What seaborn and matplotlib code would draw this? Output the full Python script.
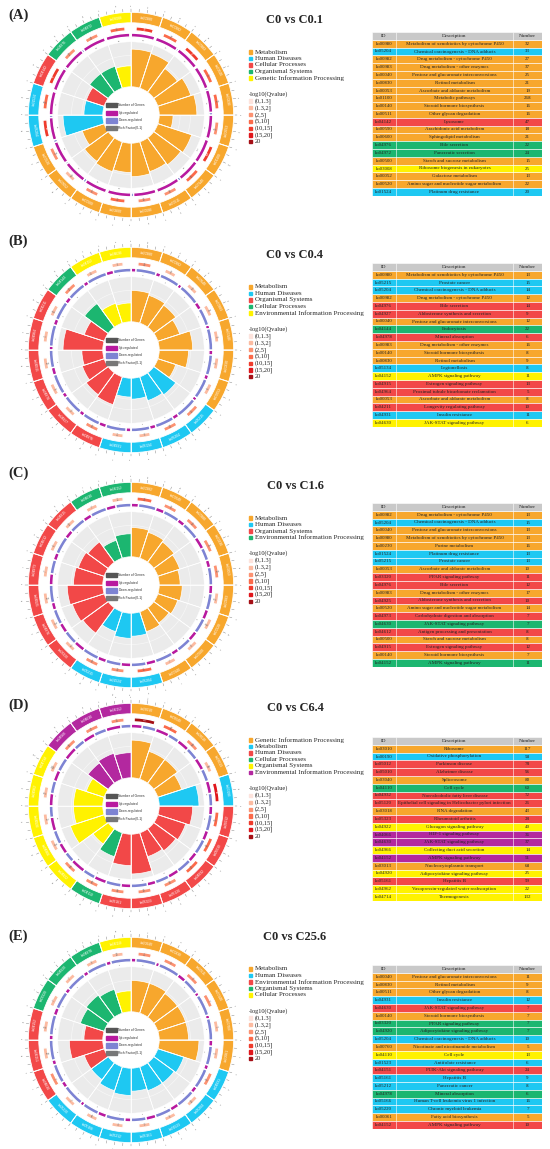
import numpy as np
import pandas as pd
import matplotlib
matplotlib.use("Agg")
import matplotlib.pyplot as plt
from matplotlib.patches import Rectangle
import seaborn as sns

# category codes used in the tables
CAT_NAMES = {"M": "Metabolism", "H": "Human Diseases", "C": "Cellular Processes",
             "O": "Organismal Systems", "G": "Genetic Information Processing",
             "E": "Environmental Information Processing"}
PALETTE = ["#f7a72d", "#1ec8f2", "#f24848", "#1cb670", "#fff200", "#b3289f"]
Q_COLORS = ["#fde3dc", "#fcbba1", "#fc9272", "#fb6a4a", "#ef3b2c", "#e0161c", "#a50f15"]
Q_LABELS = ["(0,1.3]", "(1.3,2]", "(2,5]", "(5,10]", "(10,15]", "(15,20]", "20"]
UP_COLOR = "#b8199f"
DOWN_COLOR = "#7d83d3"

# ---------------- (A) C0 vs C0.1 ----------------
A_legend = ["M", "H", "C", "O", "G"]
A_ids = ["ko00980", "ko05204", "ko00982", "ko00983", "ko00040", "ko00830", "ko00053", "ko01100",
         "ko00140", "ko00511", "ko04142", "ko00590", "ko00600", "ko04976", "ko04972", "ko00500",
         "ko03008", "ko00052", "ko00520", "ko01524"]
A_desc = ["Metabolism of xenobiotics by cytochrome P450", "Chemical carcinogenesis - DNA adducts",
          "Drug metabolism - cytochrome P450", "Drug metabolism - other enzymes",
          "Pentose and glucuronate interconversions", "Retinol metabolism",
          "Ascorbate and aldarate metabolism", "Metabolic pathways", "Steroid hormone biosynthesis",
          "Other glycan degradation", "Lysosome", "Arachidonic acid metabolism",
          "Sphingolipid metabolism", "Bile secretion", "Pancreatic secretion",
          "Starch and sucrose metabolism", "Ribosome biogenesis in eukaryotes",
          "Galactose metabolism", "Amino sugar and nucleotide sugar metabolism",
          "Platinum drug resistance"]
A_num = [32, 33, 27, 37, 25, 21, 19, 268, 16, 16, 47, 18, 21, 22, 24, 15, 25, 13, 22, 20]
A_cat = ["M", "H", "M", "M", "M", "M", "M", "M", "M", "M", "C", "M", "M", "O", "O", "M", "G", "M", "M", "H"]
A_rich = [0.90, 0.95, 0.87, 0.70, 0.83, 0.90, 0.33, 0.85, 0.80, 0.75, 0.45, 0.80, 0.70, 0.55, 0.55,
          0.75, 0.50, 0.70, 0.55, 0.45]
A_up = [0.95, 0.90, 0.93, 0.96, 0.92, 0.90, 0.94, 0.97, 0.90, 0.95, 0.93, 0.90, 0.94, 0.92, 0.95,
        0.90, 0.96, 0.93, 0.90, 0.94]
A_q = [4, 4, 3, 4, 3, 3, 2, 4, 3, 2, 4, 2, 3, 2, 2, 2, 3, 1, 2, 3]

# ---------------- (B) C0 vs C0.4 ----------------
B_legend = ["M", "H", "O", "C", "E"]
B_ids = ["ko00980", "ko05215", "ko05204", "ko00982", "ko04976", "ko04927", "ko00040", "ko04144",
         "ko04978", "ko00983", "ko00140", "ko00830", "ko05134", "ko04152", "ko04915", "ko04964",
         "ko00053", "ko04211", "ko04931", "ko04630"]
B_desc = ["Metabolism of xenobiotics by cytochrome P450", "Prostate cancer",
          "Chemical carcinogenesis - DNA adducts", "Drug metabolism - cytochrome P450",
          "Bile secretion", "Aldosterone synthesis and secretion",
          "Pentose and glucuronate interconversions", "Endocytosis", "Mineral absorption",
          "Drug metabolism - other enzymes", "Steroid hormone biosynthesis", "Retinol metabolism",
          "Legionellosis", "AMPK signaling pathway", "Estrogen signaling pathway",
          "Proximal tubule bicarbonate reclamation", "Ascorbate and aldarate metabolism",
          "Longevity regulating pathway", "Insulin resistance", "JAK-STAT signaling pathway"]
B_num = [13, 15, 14, 12, 14, 9, 12, 22, 6, 16, 8, 9, 8, 11, 13, 5, 8, 10, 11, 6]
B_cat = ["M", "H", "H", "M", "O", "O", "M", "C", "O", "M", "M", "M", "H", "E", "O", "O", "M", "O", "H", "E"]
B_rich = [0.75, 0.65, 0.60, 0.70, 0.70, 0.65, 0.65, 0.70, 0.55, 0.55, 0.80, 0.70, 0.50, 0.50, 0.50,
          0.95, 0.45, 0.50, 0.45, 0.45]
B_up = [0.20, 0.15, 0.25, 0.20, 0.30, 0.20, 0.15, 0.25, 0.20, 0.30, 0.15, 0.20, 0.25, 0.20, 0.30,
        0.15, 0.20, 0.25, 0.20, 0.30]
B_q = [2, 2, 2, 1, 2, 1, 1, 2, 1, 1, 1, 1, 1, 1, 1, 1, 1, 1, 1, 1]

# ---------------- (C) C0 vs C1.6 ----------------
C_legend = ["M", "H", "O", "E"]
C_ids = ["ko00982", "ko05204", "ko00040", "ko00980", "ko00230", "ko01524", "ko05215", "ko00053",
         "ko03320", "ko04976", "ko00983", "ko04925", "ko00520", "ko04973", "ko04630", "ko04612",
         "ko00500", "ko04915", "ko00140", "ko04152"]
C_desc = ["Drug metabolism - cytochrome P450", "Chemical carcinogenesis - DNA adducts",
          "Pentose and glucuronate interconversions", "Metabolism of xenobiotics by cytochrome P450",
          "Purine metabolism", "Platinum drug resistance", "Prostate cancer",
          "Ascorbate and aldarate metabolism", "PPAR signaling pathway", "Bile secretion",
          "Drug metabolism - other enzymes", "Aldosterone synthesis and secretion",
          "Amino sugar and nucleotide sugar metabolism", "Carbohydrate digestion and absorption",
          "JAK-STAT signaling pathway", "Antigen processing and presentation",
          "Starch and sucrose metabolism", "Estrogen signaling pathway",
          "Steroid hormone biosynthesis", "AMPK signaling pathway"]
C_num = [13, 15, 13, 13, 16, 13, 13, 10, 11, 12, 17, 10, 14, 7, 7, 8, 8, 12, 7, 11]
C_cat = ["M", "H", "M", "M", "M", "H", "H", "M", "O", "O", "M", "O", "M", "O", "E", "O", "M", "O", "M", "E"]
C_rich = [0.70, 0.55, 0.65, 0.60, 0.55, 0.60, 0.50, 0.50, 0.75, 0.80, 0.55, 0.85, 0.50, 0.70, 0.45,
          0.65, 0.45, 0.60, 0.50, 0.55]
C_up = [0.30, 0.40, 0.35, 0.30, 0.50, 0.40, 0.35, 0.30, 0.45, 0.40, 0.35, 0.30, 0.40, 0.45, 0.35,
        0.30, 0.40, 0.35, 0.30, 0.40]
C_q = [3, 3, 2, 2, 2, 2, 2, 2, 1, 1, 1, 1, 1, 1, 1, 1, 1, 1, 1, 1]

# ---------------- (D) C0 vs C6.4 ----------------
D_legend = ["G", "M", "H", "C", "O", "E"]
D_ids = ["ko03010", "ko00190", "ko05012", "ko05010", "ko03040", "ko04110", "ko04932", "ko05120",
         "ko03018", "ko05323", "ko04922", "ko04066", "ko04630", "ko04966", "ko04152", "ko03013",
         "ko04920", "ko05161", "ko04962", "ko04714"]
D_desc = ["Ribosome", "Oxidative phosphorylation", "Parkinson disease", "Alzheimer disease",
          "Spliceosome", "Cell cycle", "Non-alcoholic fatty liver disease",
          "Epithelial cell signaling in Helicobacter pylori infection", "RNA degradation",
          "Rheumatoid arthritis", "Glucagon signaling pathway", "HIF-1 signaling pathway",
          "JAK-STAT signaling pathway", "Collecting duct acid secretion", "AMPK signaling pathway",
          "Nucleocytoplasmic transport", "Adipocytokine signaling pathway", "Hepatitis B",
          "Vasopressin-regulated water reabsorption", "Thermogenesis"]
D_num = [117, 58, 78, 96, 80, 60, 72, 26, 43, 28, 40, 36, 37, 14, 51, 68, 25, 59, 22, 132]
D_cat = ["G", "M", "H", "H", "G", "C", "H", "H", "G", "H", "O", "E", "E", "O", "E", "G", "O", "H", "O", "O"]
D_rich = [0.90, 0.95, 0.80, 0.70, 0.70, 0.60, 0.65, 0.60, 0.70, 0.95, 0.45, 0.60, 0.65, 0.85, 0.60,
          0.60, 0.70, 0.75, 0.70, 0.45]
D_up = [0.45, 0.50, 0.35, 0.40, 0.55, 0.50, 0.40, 0.45, 0.50, 0.35, 0.60, 0.55, 0.50, 0.45, 0.60,
        0.50, 0.55, 0.40, 0.50, 0.45]
D_q = [6, 5, 3, 3, 3, 2, 3, 2, 2, 2, 2, 2, 2, 1, 2, 1, 1, 2, 1, 1]

# ---------------- (E) C0 vs C25.6 ----------------
E_legend = ["M", "H", "E", "O", "C"]
E_ids = ["ko00040", "ko00830", "ko00511", "ko04931", "ko04630", "ko00140", "ko03320", "ko04920",
         "ko05204", "ko00760", "ko04110", "ko01523", "ko04151", "ko05161", "ko05212", "ko04978",
         "ko05166", "ko05220", "ko00061", "ko04152"]
E_desc = ["Pentose and glucuronate interconversions", "Retinol metabolism",
          "Other glycan degradation", "Insulin resistance", "JAK-STAT signaling pathway",
          "Steroid hormone biosynthesis", "PPAR signaling pathway",
          "Adipocytokine signaling pathway", "Chemical carcinogenesis - DNA adducts",
          "Nicotinate and nicotinamide metabolism", "Cell cycle", "Antifolate resistance",
          "PI3K-Akt signaling pathway", "Hepatitis B", "Pancreatic cancer", "Mineral absorption",
          "Human T-cell leukemia virus 1 infection", "Chronic myeloid leukemia",
          "Fatty acid biosynthesis", "AMPK signaling pathway"]
E_num = [11, 9, 8, 12, 7, 7, 7, 7, 10, 5, 13, 6, 24, 9, 8, 6, 16, 7, 5, 10]
E_cat = ["M", "M", "M", "H", "E", "M", "O", "O", "H", "M", "C", "H", "E", "H", "H", "O", "H", "H", "M", "E"]
E_rich = [0.75, 0.75, 0.70, 0.65, 0.50, 0.70, 0.60, 0.65, 0.60, 0.70, 0.50, 0.60, 0.80, 0.55, 0.65,
          0.60, 0.60, 0.50, 0.95, 0.45]
E_up = [0.20, 0.15, 0.35, 0.20, 0.25, 0.15, 0.30, 0.20, 0.25, 0.15, 0.20, 0.35, 0.20, 0.40, 0.25,
        0.20, 0.35, 0.15, 0.25, 0.20]
E_q = [2, 2, 2, 2, 2, 2, 1, 1, 1, 1, 1, 1, 1, 1, 1, 1, 1, 1, 1, 1]

sns.set_style("white")
plt.rcParams["font.family"] = ["Liberation Serif", "DejaVu Serif"]

W, H = 550, 1149
fig = plt.figure(figsize=(W / 100, H / 100), dpi=100)
SANS = ["Liberation Sans", "DejaVu Sans"]


def fx(x):
    return x / W


def fy(y):
    return 1 - y / H


def tangent_rot(theta):
    d = np.degrees(theta) % 360
    return -d if (d <= 90 or d >= 270) else 180 - d


def draw_circle(cy, legend, ids, num, cat, rich, up, q, cx=131, R=115):
    pal = {c: PALETTE[i] for i, c in enumerate(legend)}
    df = pd.DataFrame({"id": ids, "num": num, "cat": cat, "rich": rich, "up": up, "q": q})
    df["order"] = df["cat"].map(lambda c: legend.index(c))
    df = df.sort_values("order", kind="stable").reset_index(drop=True)
    n = len(df)
    step = 2 * np.pi / n
    th = (np.arange(n) + 0.5) * step
    colors = df["cat"].map(pal).values
    upf = df["up"].values

    ax = fig.add_axes([fx(cx - R), fy(cy + R), 2 * R / W, 2 * R / H], projection="polar")
    ax.set_theta_zero_location("N")
    ax.set_theta_direction(-1)

    # light grey track behind the rich factor bars
    ax.bar(th, 0.43, width=step, bottom=0.27, color="#ebebeb", edgecolor="white",
           linewidth=0.3, zorder=0.5)
    circ = np.linspace(0, 2 * np.pi, 400)
    for rr in (0.37, 0.47, 0.57):
        ax.plot(circ, np.full_like(circ, rr), color="#f7f7f7", lw=0.5, zorder=0.6)

    # rich factor bars
    ax.bar(th, 0.40 * df["rich"].values, width=step, bottom=0.27, color=colors,
           edgecolor="white", linewidth=0.5, zorder=1)

    # up / down regulated ring
    start = th - step / 2
    ax.bar(start, 0.038, width=step * upf, bottom=0.745, align="edge", color=UP_COLOR, zorder=2)
    ax.bar(start + step * upf, 0.038, width=step * (1 - upf), bottom=0.745, align="edge",
           color=DOWN_COLOR, zorder=2)

    # q-value boxes with gene numbers
    qcol = [Q_COLORS[v] for v in df["q"]]
    ax.bar(th, 0.04, width=step * (0.35 + 0.07 * df["q"].values), bottom=0.805,
           color=qcol, zorder=2)
    # category ring with IDs
    ax.bar(th, 0.10, width=step, bottom=0.882, color=colors, edgecolor="white",
           linewidth=0.6, zorder=2)

    for i, row in df.iterrows():
        t = th[i]
        rot = tangent_rot(t)
        ax.text(t, 0.932, row.id, color="white", fontsize=2.4, family=SANS,
                rotation=rot, rotation_mode="anchor", ha="center", va="center", zorder=5)
        tcol = "#ffffff" if row.q >= 4 else "#666666"
        ax.text(t, 0.825, str(row.num), color=tcol, fontsize=1.8, family=SANS,
                rotation=rot, rotation_mode="anchor", ha="center", va="center", zorder=5)
        ax.text(t, 0.718, str(int(round(row.num * row.up))), color="#555555",
                fontsize=1.6, family=SANS, rotation=rot, rotation_mode="anchor",
                ha="center", va="center", zorder=5)
        s = t - step / 2
        for k in range(4):
            a = s + k * step / 4
            ax.plot([a, a], [0.99, 1.015], color="#888888", lw=0.35, zorder=5)
        for k, lab in ((0, "0"), (2, str(row.num))):
            a = s + k * step / 4 + 0.005
            d = np.degrees(a) % 360
            ax.text(a, 1.05, lab, color="#555555", fontsize=1.6, family=SANS,
                    rotation=90 - d if d < 180 else 270 - d,
                    rotation_mode="anchor", ha="center", va="center", zorder=5)
    # radial white separators
    for b in np.arange(n) * step:
        ax.plot([b, b], [0.27, 0.99], color="white", lw=0.6, zorder=4)

    ax.set_ylim(0, 1.1)
    ax.set_thetalim(0, 2 * np.pi)
    ax.set_xticks([])
    ax.set_yticks([])
    ax.grid(False)
    ax.spines["polar"].set_visible(False)
    ax.set_facecolor("none")

    # center legend
    items = [("Number of Genes", "#555555"), ("Up-regulated", UP_COLOR),
             ("Down-regulated", DOWN_COLOR), ("Rich Factor(0-1)", "#777777")]
    px = 1 / (2 * R)
    for j, (lab, col) in enumerate(items):
        yy = 0.5 + (10 - 7.7 * j) * px
        ax.add_patch(Rectangle((0.5 - 25 * px, yy - 2.2 * px), 11 * px, 4.4 * px, color=col,
                               transform=ax.transAxes, zorder=6))
        ax.text(0.5 - 12.5 * px, yy, lab, transform=ax.transAxes, fontsize=2.4, family=SANS,
                va="center", ha="left", color="#333333", zorder=6)


def draw_legend(y0, legend):
    for i, c in enumerate(legend):
        yy = y0 + i * 6.5
        fig.add_artist(Rectangle((fx(248.5), fy(yy + 1.7)), 3.4 / W, 3.4 / H,
                                 color=PALETTE[i], transform=fig.transFigure))
        fig.text(fx(255), fy(yy), CAT_NAMES[c], fontsize=5, va="center", ha="left")
    yq = y0 + (len(legend) - 1) * 6.5 + 16
    fig.text(fx(249), fy(yq), "-log10(Qvalue)", fontsize=4.6, va="center", ha="left")
    for k, (lab, col) in enumerate(zip(Q_LABELS, Q_COLORS)):
        yy = yq + 7 + k * 6.8
        fig.add_artist(Rectangle((fx(249), fy(yy + 1.6)), 3.2 / W, 3.2 / H,
                                 color=col, transform=fig.transFigure))
        fig.text(fx(255), fy(yy), lab, fontsize=4.6, va="center", ha="left")


def draw_table(top, ids, desc, num, cat, legend, left=372, width=170, rowh=7.8):
    n = len(ids)
    h = (n + 1) * rowh
    ax = fig.add_axes([fx(left), fy(top + h), width / W, h / H])
    names = [CAT_NAMES[c] for c in legend]
    pal = {CAT_NAMES[c]: PALETTE[i] for i, c in enumerate(legend)}
    tdf = pd.DataFrame({"row": ids, "w": np.ones(n), "catname": [CAT_NAMES[c] for c in cat]})
    # one full-width bar per table row, coloured by KEGG class
    sns.barplot(data=tdf, x="w", y="row", hue="catname", hue_order=names, palette=pal,
                order=ids, orient="y", width=1, dodge=False, saturation=1, errorbar=None,
                edgecolor="white", linewidth=0.4, legend=False, ax=ax)
    ax.barh(-1, 1, height=1, left=0, color="#c9c9c9", edgecolor="white", linewidth=0.4)
    ax.vlines([0.14, 0.83], -1.5, n - 0.5, color="white", lw=0.4)
    ax.set_xlim(0, 1)
    ax.set_ylim(n - 0.5, -1.5)
    ax.axis("off")
    for x, lab in ((0.07, "ID"), (0.485, "Description"), (0.915, "Number")):
        ax.text(x, -1, lab, fontsize=3.7, ha="center", va="center", color="#222222")
    for i in range(n):
        ax.text(0.07, i, ids[i], fontsize=3.5, ha="center", va="center", color="#222222")
        ax.text(0.485, i, desc[i], fontsize=3.6, ha="center", va="center", color="#222222")
        ax.text(0.915, i, str(num[i]), fontsize=3.6, ha="center", va="center", color="#222222")


panels = [
    ("(A)", "C0 vs C0.1", 15, 20, 115, 32, A_legend, A_ids, A_desc, A_num, A_cat, A_rich, A_up, A_q),
    ("(B)", "C0 vs C0.4", 241, 255, 350, 263, B_legend, B_ids, B_desc, B_num, B_cat, B_rich, B_up, B_q),
    ("(C)", "C0 vs C1.6", 473, 486, 585, 503, C_legend, C_ids, C_desc, C_num, C_cat, C_rich, C_up, C_q),
    ("(D)", "C0 vs C6.4", 705, 708, 806, 737, D_legend, D_ids, D_desc, D_num, D_cat, D_rich, D_up, D_q),
    ("(E)", "C0 vs C25.6", 936, 937, 1040, 965, E_legend, E_ids, E_desc, E_num, E_cat, E_rich, E_up, E_q),
]

for (lab, title, ly, ty, cy, ttop, legend, ids, desc, num, cat, rich, up, q) in panels:
    draw_circle(cy, legend, ids, num, cat, rich, up, q)
    fig.text(fx(8), fy(ly), lab, fontsize=10.5, fontweight="bold", va="center", ha="left")
    fig.text(fx(295), fy(ty), title, fontsize=9, fontweight="bold", va="center", ha="center")
    draw_legend(ty + 32, legend)
    draw_table(ttop, ids, desc, num, cat, legend)

fig.savefig("out.png", dpi=100, facecolor="white")
